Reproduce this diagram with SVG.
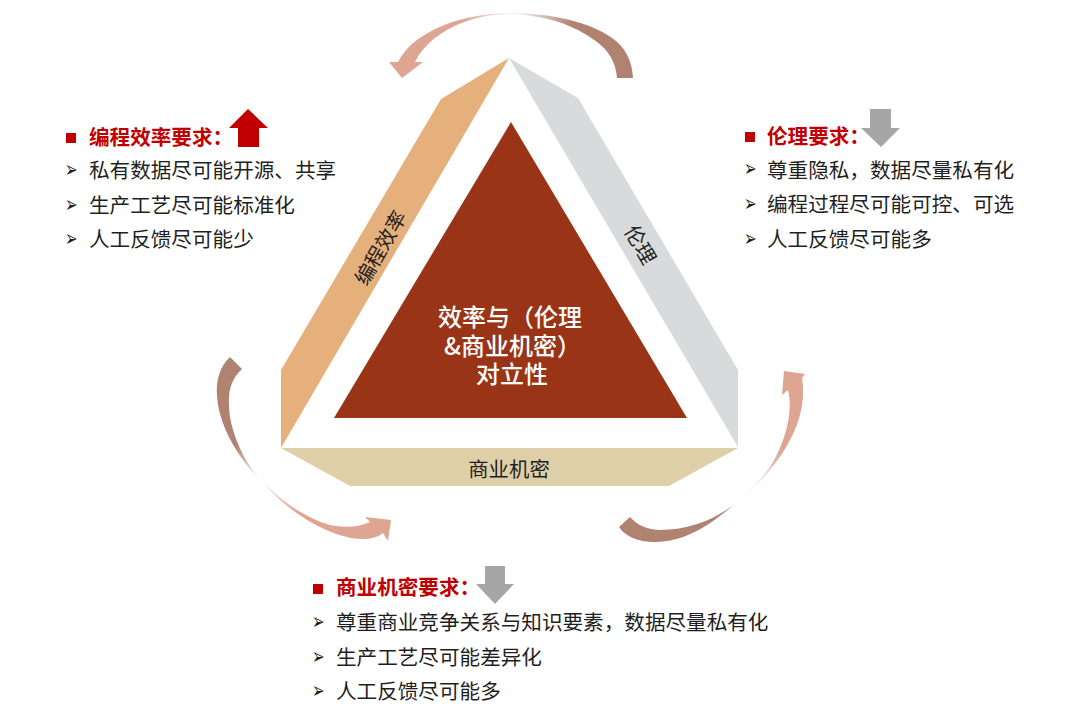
<svg xmlns="http://www.w3.org/2000/svg" width="1080" height="713" viewBox="0 0 1080 713">
<style>
text{font-family:"Noto Sans CJK SC","Liberation Sans",sans-serif;}
.t{font-size:20.6px;fill:#1f1f1f;}
.h{font-size:20.6px;font-weight:700;fill:#c00000;}
.c{font-size:24px;font-weight:500;fill:#fff;}
.l{font-size:20.4px;fill:#1f1f1f;text-anchor:middle;}
.sq{fill:#c00000;}
.b{font-family:"DejaVu Sans",sans-serif;font-size:15px;fill:#1f1f1f;}
.g{fill:#a6a6a6;}
</style>
<defs>
<linearGradient id="gTop" gradientUnits="userSpaceOnUse" x1="390" y1="40" x2="633" y2="40">
<stop offset="0" stop-color="#dea593"/><stop offset="0.3" stop-color="#dea593"/><stop offset="0.49" stop-color="#fbf3f0"/><stop offset="0.53" stop-color="#f5efed"/><stop offset="0.75" stop-color="#b08270"/><stop offset="1" stop-color="#b08270"/>
</linearGradient>
<linearGradient id="gLeft" gradientUnits="userSpaceOnUse" x1="228" y1="380" x2="340" y2="535">
<stop offset="0" stop-color="#b08270"/><stop offset="0.3" stop-color="#b08270"/><stop offset="0.5" stop-color="#f7eeea"/><stop offset="0.78" stop-color="#dea593"/><stop offset="1" stop-color="#dea593"/>
</linearGradient>
<linearGradient id="gRight" gradientUnits="userSpaceOnUse" x1="660" y1="535" x2="800" y2="400">
<stop offset="0" stop-color="#b08270"/><stop offset="0.3" stop-color="#b08270"/><stop offset="0.52" stop-color="#f7eeea"/><stop offset="0.75" stop-color="#dea593"/><stop offset="1" stop-color="#dea593"/>
</linearGradient>
</defs>
<g id="connectors">
<path fill="url(#gTop)" d="M617 78C616 62 608 50 597 42C575 25 545 15 510 14C470 14 430 32 415 62L423 62L402 78L389 62L398 62C414 30 465 13 510 13C550 13 590 22 612 38C625 47 632 60 633 78Z"/>
<path fill="url(#gLeft)" d="M230 357C218 368 216 385 217 395C218 425 240 462 263 482C285 510 330 539 363 539C371 539 378 537 383 533L388 541L391 520L365 517L370 522C360 527 345 528 330 525C305 518 280 500 263 482C245 465 229 430 229 405C228 390 232 378 242 369Z"/>
<path fill="url(#gRight)" d="M619 527C628 540 645 542 655 542C690 542 720 518 747 493C775 470 803 430 803 393C803 388 803 383 802 378L805 374L784 371L782 395L788 390C793 410 787 440 770 467C762 478 755 485 747 493C725 515 695 530 660 530C648 530 637 525 630 517Z"/>
</g>
<g id="triangle">
<polygon id="side-efficiency" points="509,58 441,99 281,370 281,448" fill="#e6b07c"/>
<polygon id="side-ethics" points="509,58 578,98 738,370 738,447" fill="#d9dadb"/>
<polygon id="side-secret" points="281,448 738,448 669,486 350,486" fill="#decfa8"/>
<polygon id="core-shape" points="511,122 687,418 334,418" fill="#9a3416"/>
</g>
<g id="core">
<text class="c"><tspan x="438" y="326">效率与（伦理</tspan><tspan x="444" y="355">&amp;商业机密）</tspan><tspan x="476" y="383">对立性</tspan></text>
</g>
<g id="label-efficiency"><text class="l" transform="translate(381 248) rotate(-60)" y="7">编程效率</text></g>
<g id="label-ethics"><text class="l" transform="translate(640 245) rotate(60)" y="7">伦理</text></g>
<g id="label-secret"><text class="l" x="509" y="477">商业机密</text></g>
<g id="req-efficiency">
<rect class="sq" x="66" y="133" width="10" height="10"/>
<text class="h" x="89" y="145">编程效率要求：</text>
<polygon points="248,109 268,128 259,128 259,147 238,147 238,128 229,128" fill="#c00000"/>
<text class="b" transform="translate(65 177) scale(1 1.5)">➢</text><text class="t" x="89" y="178">私有数据尽可能开源、共享</text>
<text class="b" transform="translate(65 212) scale(1 1.5)">➢</text><text class="t" x="89" y="213">生产工艺尽可能标准化</text>
<text class="b" transform="translate(65 246) scale(1 1.5)">➢</text><text class="t" x="89" y="247">人工反馈尽可能少</text>
</g>
<g id="req-ethics">
<rect class="sq" x="745" y="132" width="10" height="10"/>
<text class="h" x="767" y="144">伦理要求：</text>
<polygon class="g" points="870,109 891,109 891,128 900,128 881,147 861,128 870,128"/>
<text class="b" transform="translate(744 176) scale(1 1.5)">➢</text><text class="t" x="767" y="178">尊重隐私，数据尽量私有化</text>
<text class="b" transform="translate(744 211) scale(1 1.5)">➢</text><text class="t" x="767" y="212">编程过程尽可能可控、可选</text>
<text class="b" transform="translate(744 246) scale(1 1.5)">➢</text><text class="t" x="767" y="247">人工反馈尽可能多</text>
</g>
<g id="req-secret">
<rect class="sq" x="313" y="584" width="10" height="10"/>
<text class="h" x="336" y="595">商业机密要求：</text>
<polygon class="g" points="485,566 505,566 505,584 514,584 495,604 476,584 485,584"/>
<text class="b" transform="translate(312 629) scale(1 1.5)">➢</text><text class="t" x="336" y="630">尊重商业竞争关系与知识要素，数据尽量私有化</text>
<text class="b" transform="translate(312 664) scale(1 1.5)">➢</text><text class="t" x="336" y="665">生产工艺尽可能差异化</text>
<text class="b" transform="translate(312 698) scale(1 1.5)">➢</text><text class="t" x="336" y="699">人工反馈尽可能多</text>
</g>
</svg>
